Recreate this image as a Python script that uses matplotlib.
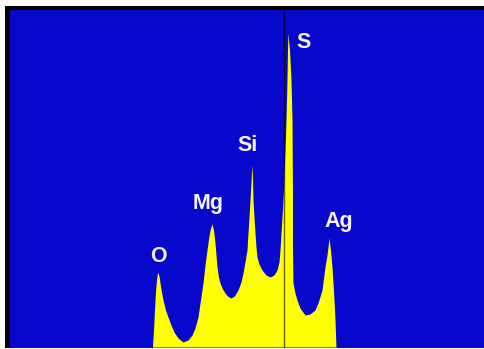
import matplotlib
matplotlib.use("Agg")
import matplotlib.pyplot as plt
from matplotlib.patches import Rectangle

# Spectrum outline (channel, counts)
channel = [142.5, 143.5, 144.5, 145.5, 146.5, 147.5, 149, 150, 151.5, 153, 155.5, 158,
           161, 164, 168, 173, 178, 182, 185, 188, 190.5, 193, 195, 197, 199, 200.5,
           202, 203.5, 205, 206, 207, 208.5, 210, 212.5, 215, 218, 221, 224.5, 228,
           231, 233, 235, 237, 238, 239, 240, 241, 241.5, 242, 242.5, 243, 244, 245,
           246, 247, 249, 252, 256, 260, 264, 267, 269, 270, 271, 272, 273.5, 275,
           276, 277, 277.5, 278, 279.5, 281, 282, 282.5, 282.5, 283, 285, 287, 290,
           295, 300, 305, 308, 312, 315, 317, 318, 319, 320.5, 322, 323, 324, 325, 326]
counts = [0, 17, 37, 55, 67, 75, 71, 64, 55, 47, 37, 30,
          22, 15, 9, 5, 7, 12, 19, 30, 47, 64, 82, 97, 111, 119,
          123, 117, 104, 92, 80, 70, 64, 58, 54, 50.5, 49, 51, 57,
          65, 74, 85, 97, 114, 130, 147, 164, 175, 182, 167, 147, 130, 114,
          100, 90, 83, 77, 72, 70, 72, 77, 85, 97, 114, 130, 157, 197,
          227, 267, 297, 314, 297, 267, 227, 147, 97, 64, 54, 47, 39,
          32, 33, 37, 44, 57, 80, 92, 100, 109, 97, 80, 64, 47, 27, 0]

# Element labels
elements = ["O", "Mg", "Si", "S", "Ag"]
label_x = [148, 198, 238, 294, 329]
label_y = [85, 138, 196, 299, 120]

marker_channel = 274.5

W, H = 485, 349
fig = plt.figure(figsize=(W / 100, H / 100), dpi=100)
fig.patch.set_facecolor("white")

# black frame behind the plot area
frame = Rectangle((5 / W, 1 / H), 480 / W, 342 / H,
                  transform=fig.transFigure, facecolor="black",
                  edgecolor="none", zorder=-5)
fig.patches.append(frame)

ax = fig.add_axes([10 / W, 1 / H, 475 / W, 338 / H])
ax.set_zorder(5)
ax.set_facecolor("#0808CC")
ax.fill_between(channel, counts, 0, color="#FFFF00", linewidth=0, zorder=2)
ax.axvline(marker_channel, color="black", alpha=0.6, linewidth=1, zorder=3)

for name, x, y in zip(elements, label_x, label_y):
    ax.text(x, y, name, ha="center", va="baseline", color="#F4F4F4",
            fontsize=15.5, fontweight="bold", family="Liberation Sans", zorder=4)

ax.set_xlim(0, 475)
ax.set_ylim(-1, 337)
ax.set_xticks([])
ax.set_yticks([])
for s in ax.spines.values():
    s.set_visible(False)

fig.savefig("out.png", dpi=100)
